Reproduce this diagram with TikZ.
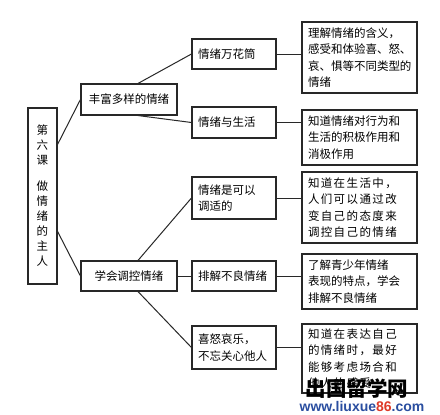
\documentclass[tikz,border=0pt]{standalone}
\usepackage{fontspec}
\setmainfont{Noto Sans CJK SC}
\newfontfamily\cjkwide[LetterSpace=12]{Noto Sans CJK SC}
\newfontfamily\wmlatin{Liberation Sans}
\definecolor{wmblue}{RGB}{42,78,160}
\definecolor{wmred}{RGB}{222,58,40}
\definecolor{edge}{RGB}{40,40,40}
\begin{document}
\begin{tikzpicture}[x=1pt,y=-1pt,
  box/.style={draw=edge, line width=1.1pt, inner sep=0pt, font=\fontsize{11.5}{16.5}\selectfont},
  leftbox/.style={box, inner xsep=6pt, align=left},
  conn/.style={draw=edge, line width=1pt}]
\useasboundingbox (0,0) rectangle (440,415);
\fill[white] (0,0) rectangle (440,415);

% root
\node[box, minimum width=29pt, minimum height=176pt, align=center,
      font=\fontsize{11.5}{15}\selectfont] (root) at (42.5,196)
  {第\\六\\课\\[11pt]做\\情\\绪\\的\\主\\人};

% level 1
\node[box, minimum width=96pt, minimum height=31pt] (l1a) at (129,99.5) {丰富多样的情绪};
\node[box, minimum width=96pt, minimum height=30pt] (l1b) at (129,276) {学会调控情绪};

% level 2
\node[leftbox, text width=72pt, minimum height=30pt] (l2a) at (234,54) {情绪万花筒};
\node[leftbox, text width=72pt, minimum height=31pt] (l2b) at (234,122.5) {情绪与生活};
\node[leftbox, text width=72pt, minimum height=42pt] (l2c) at (234,198) {情绪是可以\\调适的};
\node[leftbox, text width=72pt, minimum height=30pt] (l2d) at (234,276) {排解不良情绪};
\node[leftbox, text width=72pt, minimum height=43pt] (l2e) at (234,347.5) {喜怒哀乐，\\不忘关心他人};

% level 3
\node[leftbox, text width=103pt, minimum height=71pt] (l3a) at (359.5,57.5)
  {理解情绪的含义，\\感受和体验喜、怒、\\哀、惧等不同类型的\\情绪};
\node[leftbox, text width=103pt, minimum height=55pt] (l3b) at (359.5,137.5)
  {知道情绪对行为和\\生活的积极作用和\\消极作用};
\node[leftbox, text width=103pt, minimum height=71pt] (l3c) at (359.5,207.5)
  {\cjkwide 知道在生活中，\\人们可以通过改\\变自己的态度来\\调控自己的情绪};
\node[leftbox, text width=103pt, minimum height=55pt] (l3d) at (359.5,281.5)
  {了解青少年情绪\\表现的特点，学会\\排解不良情绪};
\node[leftbox, text width=103pt, minimum height=69pt] (l3e) at (359.5,358.5)
  {\cjkwide 知道在表达自己\\的情绪时，最好\\能够考虑场合和\\他人的感受};

% connectors root -> level 1
\draw[conn] ([yshift=-37pt]root.north east) -- (l1a.west);
\draw[conn] ([yshift=-124pt]root.north east) -- (l1b.west);

% level 1 -> level 2
\draw[conn] ([xshift=9pt]l1a.north) -- (l2a.west);
\draw[conn] ([xshift=9pt]l1a.south) -- (l2b.west);
\draw[conn] ([xshift=9pt]l1b.north) -- (l2c.west);
\draw[conn] (l1b.east) -- (l2d.west);
\draw[conn] ([xshift=9pt]l1b.south) -- (l2e.west);

% level 2 -> level 3
\draw[conn] (l2a.east) -- (l2a.east -| l3a.west);
\draw[conn] (l2b.east) -- (l2b.east -| l3b.west);
\draw[conn] (l2c.east) -- (l2c.east -| l3c.west);
\draw[conn] (l2d.east) -- (l2d.east -| l3d.west);
\draw[conn] (l2e.east) -- (l2e.east -| l3e.west);

% watermark
\node[inner sep=0pt, font=\fontsize{20.5}{22}\selectfont\bfseries] (wm1) at (357,389) {出国留学网};
\node[inner sep=0pt, font=\wmlatin\fontsize{14}{16}\selectfont\bfseries, text=wmblue] (wm2) at (362,406)
  {www.liuxue\textcolor{wmred}{86}.com};
\end{tikzpicture}
\end{document}
